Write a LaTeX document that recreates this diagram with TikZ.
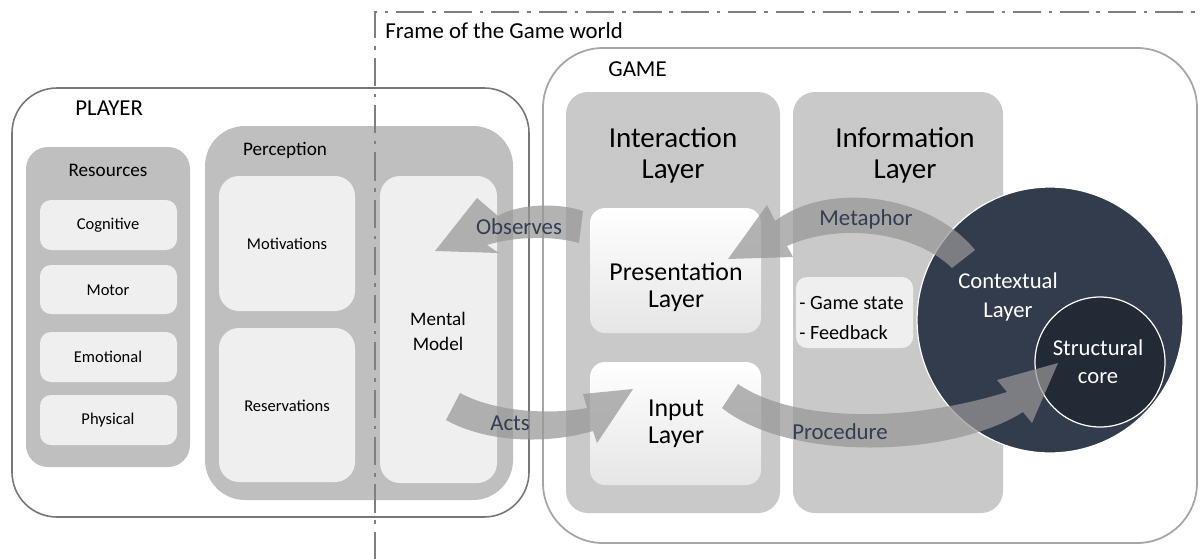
\documentclass[tikz,border=0pt]{standalone}
\usepackage{fontspec}
\setmainfont{Carlito}
\definecolor{frameg}{HTML}{7F7F7F}
\definecolor{outlP}{HTML}{777777}
\definecolor{outlG}{HTML}{A6A6A6}
\definecolor{grpA}{HTML}{BFBFBF}
\definecolor{grpB}{HTML}{C9C9C9}
\definecolor{innerc}{HTML}{EFEFEF}
\definecolor{ctxc}{HTML}{333C4D}
\definecolor{corec}{HTML}{222A35}
\definecolor{arrc}{HTML}{979797}
\definecolor{lblc}{HTML}{323E4F}
\begin{document}
\begin{tikzpicture}[x=0.02cm,y=-0.02cm,
  txt/.style={inner sep=0pt, align=center, text=black},
  ftitle/.style={font=\fontsize{13}{15.6}\selectfont},
  fhead/.style={font=\fontsize{10.9}{14.2}\selectfont},
  fitem/.style={font=\fontsize{9.4}{11}\selectfont},
  fcol/.style={font=\fontsize{16.5}{17.6}\selectfont},
  flayer/.style={font=\fontsize{14.7}{15.6}\selectfont},
  fcirc/.style={font=\fontsize{12.9}{16}\selectfont},
  farr/.style={font=\fontsize{13}{15}\selectfont, text=lblc, inner sep=0pt},
  grpbox/.style={fill=grpA},
  colbox/.style={fill=grpB, rounded corners=0.44cm},
  itembox/.style={fill=innerc, rounded corners=0.22cm},
  layerbox/.style={top color=white, middle color=white, bottom color=black!10, rounded corners=0.3cm},
  blockarrow/.style={fill=arrc, fill opacity=0.72},
]
\useasboundingbox (0,0) rectangle (1202,558);
\fill[white] (0,0) rectangle (1202,558);

% ---------- PLAYER ----------
\draw[outlP, line width=0.9pt, rounded corners=0.9cm] (12,88) rectangle (529,517);
\node[txt, ftitle, anchor=west] (player) at (75,108) {PLAYER};

\fill[grpbox, rounded corners=0.44cm] (26,147) rectangle (190,467);
\node[txt, fhead] (resources) at (108,170) {Resources};
\fill[itembox] (40,200) rectangle (177,250);
\node[txt, fitem] (cognitive) at (108,225) {Cognitive};
\fill[itembox] (40,265) rectangle (177,314);
\node[txt, fitem] (motor) at (108,290) {Motor};
\fill[itembox] (40,332) rectangle (177,382);
\node[txt, fitem] (emotional) at (108,357) {Emotional};
\fill[itembox] (40,395) rectangle (177,445);
\node[txt, fitem] (physical) at (108,420) {Physical};

\fill[grpbox, rounded corners=0.8cm] (205,126) rectangle (513,500);
\node[txt, fhead] (perception) at (285,150) {Perception};
\fill[innerc, rounded corners=0.4cm] (219,176) rectangle (355,311);
\node[txt, fitem] (motivations) at (287,244) {Motivations};
\fill[innerc, rounded corners=0.4cm] (219,328) rectangle (355,482);
\node[txt, fitem] (reservations) at (287,406) {Reservations};
\fill[innerc, rounded corners=0.4cm] (380,176) rectangle (497,483);
\node[txt, fhead] (mental) at (438,331) {Mental\\Model};

% ---------- GAME ----------
\draw[outlG, line width=1pt, rounded corners=1.2cm] (543,48) rectangle (1197,543);
\node[txt, ftitle, anchor=west] (game) at (608,69) {GAME};

\fill[colbox] (566,92) rectangle (780,513);
\node[txt, fcol] (interaction) at (673,155) {Interaction\\Layer};
\fill[colbox] (793,92) rectangle (1003,513);
\node[txt, fcol] (information) at (905,155) {Information\\Layer};

\shade[layerbox] (590,208) rectangle (761,333);
\node[txt, flayer] (presentation) at (676,287) {Presentation\\Layer};
\shade[layerbox] (590,362) rectangle (761,485);
\node[txt, flayer] (input) at (676,424) {Input\\Layer};

\fill[itembox] (796,277) rectangle (913,348);
\node[txt, font=\fontsize{11.5}{17}\selectfont, align=left, anchor=west] (gamestate) at (799,318) {- Game state\\- Feedback};

\node[circle, minimum size=5.32cm, inner sep=0pt, fill=ctxc, draw=white, line width=0.7pt] (ctx) at (1050,320) {};
\node[circle, minimum size=2.6cm, inner sep=0pt, fill=corec, draw=white, line width=0.7pt] (core) at (1100,362) {};
\node[txt, fcirc, text=white] (contextual) at (1008,297) {Contextual\\Layer};
\node[txt, fcirc, text=white] (structural) at (1098,362) {Structural\\core};

% ---------- frame of the game world ----------
\draw[frameg, line width=1.6pt, dash pattern=on 16pt off 4.5pt on 2pt off 4.5pt]
  (375,560) -- (375,12) -- (1215,12);
\node[txt, ftitle, anchor=west] (frametxt) at (385,31) {Frame of the Game world};

% ---------- block arrows ----------
% Observes
\fill[blockarrow] (583,211) .. controls (560,203) and (520,203) .. (498,216)
  -- (477,198) -- (435,251) -- (499,253) -- (487,245)
  .. controls (515,236) and (555,236) .. (579,243) -- cycle;
% Metaphor
\fill[blockarrow] (975,250) .. controls (930,195) and (830,180) .. (775,221)
  -- (767,205) -- (728,259) -- (793,257) -- (787,246)
  .. controls (840,222) and (915,232) .. (952,268) -- cycle;
% Acts
\fill[blockarrow] (460,393) .. controls (495,412) and (550,415) .. (587,408)
  -- (583,394) -- (633,389) -- (597,443) -- (593,431)
  .. controls (545,445) and (485,442) .. (446,420) -- cycle;
% Procedure
\fill[blockarrow] (738,384) .. controls (790,420) and (900,425) .. (1007,392)
  -- (997,380) -- (1058,363) -- (1032,423) -- (1023,412)
  .. controls (950,458) and (790,462) .. (722,408) -- cycle;

\node[farr] (observes) at (519,227) {Observes};
\node[farr] (metaphor) at (866,219) {Metaphor};
\node[farr] (acts) at (510,423) {Acts};
\node[farr] (procedure) at (840,432) {Procedure};
\end{tikzpicture}
\end{document}
